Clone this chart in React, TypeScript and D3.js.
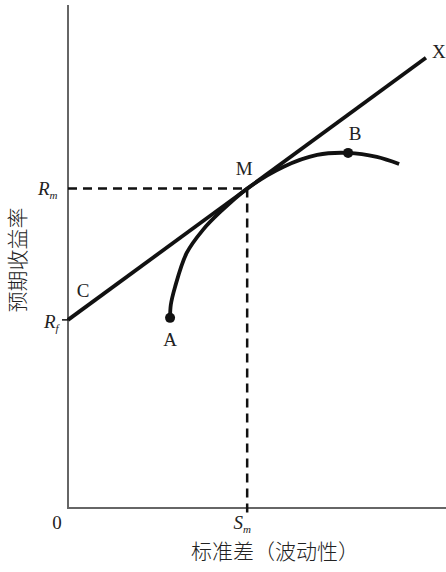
import React from "react";
import * as d3 from "d3";

// Abstract data units: x = standard deviation, y = expected return
const xDomain: [number, number] = [0, 10];
const yDomain: [number, number] = [0, 10];

const riskFree = 3.74; // Rf
const marketPoint = { x: 4.74, y: 6.35 }; // M (Sm, Rm)
const cmlEnd = { x: 9.47, y: 8.95 }; // X end of capital market line

// Efficient frontier curve, from A through M and B
const frontierX = [2.7, 2.72, 2.83, 3.14, 3.57, 4.02, 4.74, 5.69, 6.59, 7.41, 8.17, 8.76];
const frontierY = [3.78, 4.04, 4.39, 5.07, 5.53, 5.88, 6.35, 6.78, 7.02, 7.06, 6.98, 6.84];

const pointA = { x: 2.7, y: 3.78 };
const pointB = { x: 7.41, y: 7.06 };

const W = 446;
const H = 572;

export default function App() {
  const x = d3.scaleLinear().domain(xDomain).range([68, 446]);
  const y = d3.scaleLinear().domain(yDomain).range([508, 5]);

  const frontier = frontierX.map((v, i) => [v, frontierY[i]] as [number, number]);
  const curve = d3
    .line<[number, number]>()
    .x((d) => x(d[0]))
    .y((d) => y(d[1]))
    .curve(d3.curveCatmullRom.alpha(0.5))(frontier);

  const serif = "'Liberation Serif', 'DejaVu Serif', serif";
  const cjk = "'Noto Sans CJK SC', sans-serif";

  return (
    <svg
      width={W}
      height={H}
      style={{ position: "absolute", left: 0, top: 0, background: "#fff" }}
    >
      {/* axes */}
      <line x1={x(0)} y1={y(0)} x2={x(0)} y2={5} stroke="#666" strokeWidth={2} />
      <line x1={x(0) - 1} y1={y(0)} x2={446} y2={y(0)} stroke="#666" strokeWidth={2} />

      {/* dashed guides */}
      <line
        x1={x(0)}
        y1={y(marketPoint.y)}
        x2={x(marketPoint.x)}
        y2={y(marketPoint.y)}
        stroke="#111"
        strokeWidth={2.5}
        strokeDasharray="9,6"
      />
      <line
        x1={x(marketPoint.x)}
        y1={y(marketPoint.y)}
        x2={x(marketPoint.x)}
        y2={y(0) + 5}
        stroke="#111"
        strokeWidth={2.5}
        strokeDasharray="9,6"
      />
      {/* small tick at Rf */}
      <line x1={x(0)} y1={y(riskFree)} x2={x(0) - 6} y2={y(riskFree)} stroke="#111" strokeWidth={1.5} />

      {/* capital market line */}
      <line
        x1={x(0)}
        y1={y(riskFree)}
        x2={x(cmlEnd.x)}
        y2={y(cmlEnd.y)}
        stroke="#111"
        strokeWidth={3.8}
      />

      {/* frontier */}
      <path d={curve || ""} fill="none" stroke="#111" strokeWidth={3.8} />
      <circle cx={x(pointA.x)} cy={y(pointA.y)} r={5} fill="#111" />
      <circle cx={x(pointB.x)} cy={y(pointB.y)} r={5} fill="#111" />

      {/* point labels */}
      <g fontFamily={serif} fontSize={19} fill="#222">
        <text x={x(cmlEnd.x) + 13} y={y(cmlEnd.y) - 0} textAnchor="middle">X</text>
        <text x={x(pointB.x) + 7} y={140} textAnchor="middle">B</text>
        <text x={x(marketPoint.x) - 3} y={175} textAnchor="middle">M</text>
        <text x={x(pointA.x)} y={346} textAnchor="middle">A</text>
        <text x={83} y={297} textAnchor="middle">C</text>
        <text x={57} y={529} textAnchor="middle">0</text>
      </g>

      {/* axis value labels */}
      <g fontFamily={serif} fill="#222">
        <text x={38} y={y(marketPoint.y) + 6} fontSize={19} fontStyle="italic">
          R<tspan fontSize={11} dy={4}>m</tspan>
        </text>
        <text x={44} y={y(riskFree) + 8} fontSize={19} fontStyle="italic">
          R<tspan fontSize={11} dy={4}>f</tspan>
        </text>
        <text x={x(marketPoint.x) - 5} y={529} fontSize={19} fontStyle="italic" textAnchor="middle">
          S<tspan fontSize={11} dy={4}>m</tspan>
        </text>
      </g>

      {/* axis titles */}
      <text
        x={275}
        y={559}
        textAnchor="middle"
        fontFamily={cjk}
        fontWeight={300}
        fontSize={21}
        fill="#222"
      >
        标准差（波动性）
      </text>
      <text
        transform={`translate(25, 260) rotate(-90)`}
        textAnchor="middle"
        fontFamily={cjk}
        fontWeight={300}
        fontSize={21}
        fill="#222"
      >
        预期收益率
      </text>
    </svg>
  );
}
